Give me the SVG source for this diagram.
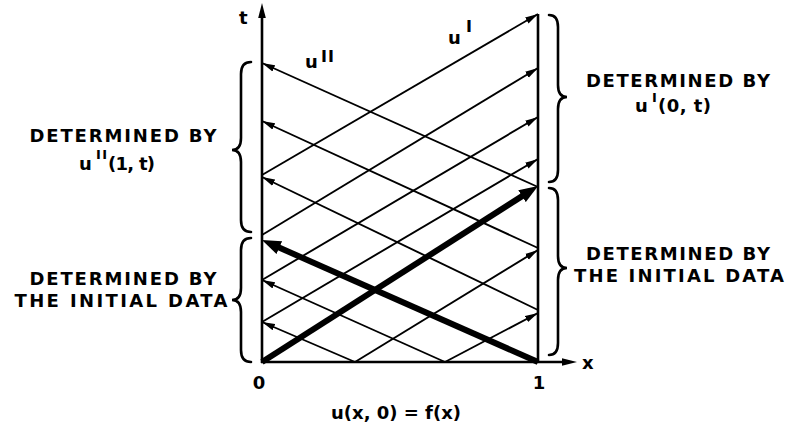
<svg xmlns="http://www.w3.org/2000/svg" width="788" height="425" viewBox="0 0 788 425">
<defs>
<style>
text{font-family:"DejaVu Sans","Liberation Sans",sans-serif;font-weight:bold;fill:#000}
.lbl{font-size:18px}
.thin{stroke:#000;stroke-width:1.9;fill:none}
.thick{stroke:#000;stroke-width:6;fill:none}
.axis{stroke:#000;stroke-width:2.6;fill:none}
.brace{stroke:#000;stroke-width:2.6;fill:none;stroke-linecap:round}
</style>
<marker id="ah" markerUnits="userSpaceOnUse" markerWidth="14" markerHeight="8" refX="13" refY="4" orient="auto">
<path d="M0,0.6 L13,4 L0,7.4 Z" fill="#000"/>
</marker>
<marker id="ahT" markerUnits="userSpaceOnUse" markerWidth="20" markerHeight="14" refX="9" refY="7" orient="auto">
<path d="M0,0 L19,7 L0,14 Z" fill="#000"/>
</marker>
</defs>
<rect width="788" height="425" fill="#fff"/>

<g id="axes">
<line class="axis" x1="262" y1="363" x2="262" y2="14"/>
<polygon points="262,3 258.2,18 265.8,18" fill="#000"/>
<line class="axis" x1="538" y1="14" x2="538" y2="363"/>
<line class="axis" x1="261" y1="362" x2="564" y2="362"/>
<polygon points="577,362 562,358.2 562,365.8" fill="#000"/>
</g>

<g id="connectors">
<line class="thin" x1="262" y1="175" x2="538" y2="14" marker-end="url(#ah)"/>
<line class="thin" x1="262" y1="235" x2="538" y2="68" marker-end="url(#ah)"/>
<line class="thin" x1="262" y1="280" x2="538" y2="117" marker-end="url(#ah)"/>
<line class="thin" x1="262" y1="322" x2="538" y2="159" marker-end="url(#ah)"/>
<line class="thin" x1="355" y1="362" x2="538" y2="250" marker-end="url(#ah)"/>
<line class="thin" x1="445" y1="362" x2="538" y2="313" marker-end="url(#ah)"/>
<line class="thick" x1="262" y1="362" x2="529.6" y2="191.4" marker-end="url(#ahT)"/>
<line class="thin" x1="538" y1="187" x2="262" y2="63" marker-end="url(#ah)"/>
<line class="thin" x1="538" y1="248" x2="262" y2="121" marker-end="url(#ah)"/>
<line class="thin" x1="538" y1="310" x2="262" y2="177" marker-end="url(#ah)"/>
<line class="thin" x1="445" y1="362" x2="262" y2="280" marker-end="url(#ah)"/>
<line class="thin" x1="355" y1="362" x2="262" y2="322" marker-end="url(#ah)"/>
<line class="thick" x1="538" y1="362" x2="271.1" y2="244" marker-end="url(#ahT)"/>
</g>

<g id="braces">
<path class="brace" d="M251,62 Q241,62 241,74 L241,138 Q241,150 232,150 Q241,150 241,162 L241,220 Q241,232 251,232"/>
<path class="brace" d="M251,238 Q241,238 241,250 L241,288 Q241,300 232,300 Q241,300 241,312 L241,350 Q241,362 251,362"/>
<path class="brace" d="M549,15 Q558,15 558,27 L558,85 Q558,97 567,97 Q558,97 558,109 L558,170 Q558,182 549,182"/>
<path class="brace" d="M549,188 Q558,188 558,200 L558,256 Q558,268 567,268 Q558,268 558,280 L558,343 Q558,355 549,355"/>
</g>

<g id="axis-labels">
<text x="239" y="24" font-size="18">t</text>
<text x="582" y="369" font-size="18">x</text>
<text x="259" y="389" font-size="18" text-anchor="middle">0</text>
<text x="539" y="389" font-size="18" text-anchor="middle">1</text>
<text x="396" y="419" font-size="18" text-anchor="middle" textLength="130" lengthAdjust="spacing">u(x, 0) = f(x)</text>
</g>

<g id="wave-labels">
<text class="lbl" x="305" y="68">u<tspan x="321" y="62" font-size="16" letter-spacing="1">II</tspan></text>
<text class="lbl" x="448" y="44">u<tspan x="466" y="32" font-size="16">I</tspan></text>
</g>

<g id="label-left-upper">
<text class="lbl" x="123" y="142" text-anchor="middle" textLength="187" lengthAdjust="spacing">DETERMINED BY</text>
<text class="lbl" x="79" y="170">u<tspan x="96" y="159" font-size="13" letter-spacing="1.5">II</tspan><tspan x="108" y="170" textLength="47" lengthAdjust="spacing">(1, t)</tspan></text>
</g>

<g id="label-left-lower">
<text class="lbl" x="123" y="285" text-anchor="middle" textLength="187" lengthAdjust="spacing">DETERMINED BY</text>
<text class="lbl" x="121" y="307" text-anchor="middle" textLength="213" lengthAdjust="spacing">THE INITIAL DATA</text>
</g>

<g id="label-right-upper">
<text class="lbl" x="678" y="87" text-anchor="middle" textLength="184" lengthAdjust="spacing">DETERMINED BY</text>
<text class="lbl" x="635" y="112">u<tspan x="652" y="102" font-size="13">I</tspan><tspan x="658" y="112" textLength="53" lengthAdjust="spacing">(0, t)</tspan></text>
</g>

<g id="label-right-lower">
<text class="lbl" x="678" y="260" text-anchor="middle" textLength="184" lengthAdjust="spacing">DETERMINED BY</text>
<text class="lbl" x="679" y="282" text-anchor="middle" textLength="210" lengthAdjust="spacing">THE INITIAL DATA</text>
</g>
</svg>
